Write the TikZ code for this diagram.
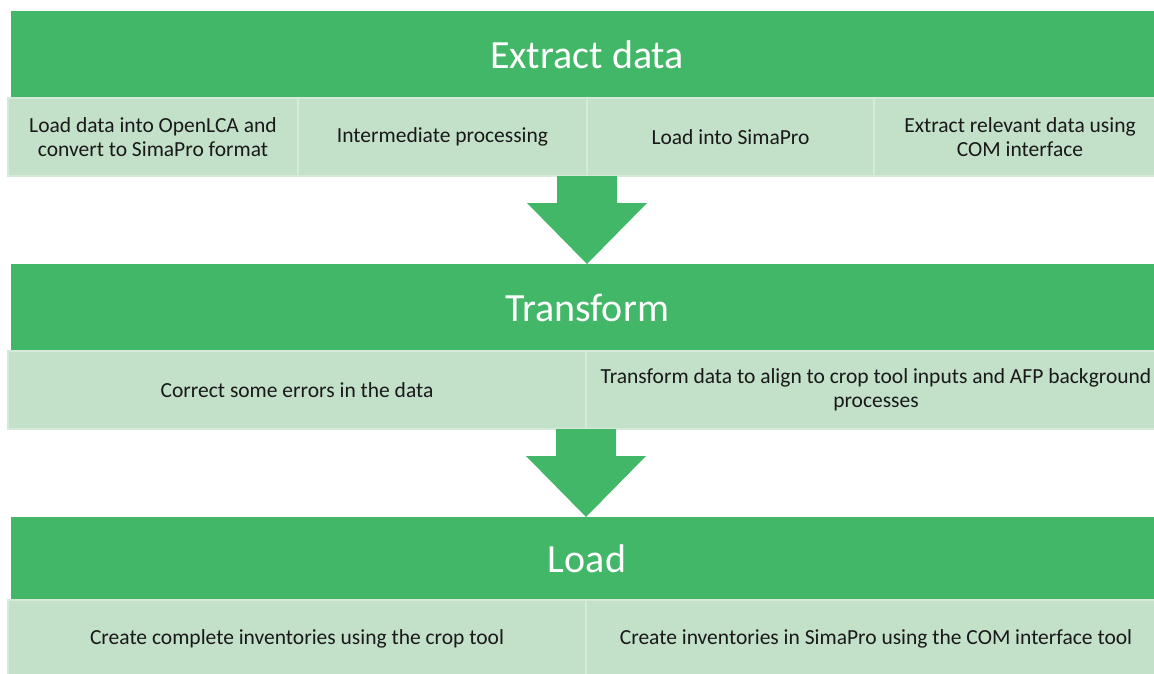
\documentclass[tikz,border=0pt]{standalone}
\usepackage{fontspec}
\setmainfont{Carlito}
\usetikzlibrary{positioning,calc}

\definecolor{stagegreen}{RGB}{67,183,104}
\definecolor{stepgreen}{RGB}{195,224,201}
\definecolor{stepline}{RGB}{214,234,218}

\newcommand{\blockarrow}[2]{%
  \fill[stagegreen] ($(#1)+(-30,0)$) -- ($(#1)+(30,0)$)
    -- ($(#1 |- #2)+(30,-61)$) -- ($(#1 |- #2)+(60,-61)$)
    -- (#1 |- #2) -- ($(#1 |- #2)+(-60,-61)$)
    -- ($(#1 |- #2)+(-30,-61)$) -- cycle;}

\begin{document}
\begin{tikzpicture}[x=1pt,y=-1pt,
    stage/.style={fill=stagegreen,text=white,minimum width=1152pt,minimum height=87pt,
                  inner sep=0pt,outer sep=0pt,anchor=north west,font=\fontsize{40}{46}\selectfont},
    task/.style={fill=stepgreen,draw=stepline,line width=1.2pt,minimum height=78pt,
                 inner sep=0pt,outer sep=0pt,align=center,text=black!90,
                 font=\fontsize{21.5}{23.5}\selectfont}]
  \useasboundingbox (0,0) rectangle (1154,673);

  % extract
  \node[stage] (header1) at (11,11) {Extract data};
  \node[task,minimum width=290pt,anchor=north west] (cell11) at (8,98)
    {Load data into OpenLCA and\\convert to SimaPro format};
  \node[task,minimum width=289pt] (cell12) [right=0pt of cell11] {Intermediate processing};
  \node[task,minimum width=287pt] (cell13) [right=0pt of cell12] {Load into SimaPro};
  \node[task,minimum width=292pt] (cell14) [right=0pt of cell13]
    {Extract relevant data using\\COM interface};

  % transform
  \node[stage] (header2) at (11,264) {Transform};
  \node[task,minimum width=578pt,anchor=north west] (cell21) at (8,351)
    {Correct some errors in the data};
  \node[task,minimum width=580pt] (cell22) [right=0pt of cell21]
    {Transform data to align to crop tool inputs and AFP background\\processes};

  % load
  \node[stage,minimum height=83pt] (header3) at (11,517) {Load};
  \node[task,minimum width=578pt,anchor=north west] (cell31) at (8,600)
    {Create complete inventories using the crop tool};
  \node[task,minimum width=580pt] (cell32) [right=0pt of cell31]
    {Create inventories in SimaPro using the COM interface tool};

  \blockarrow{cell13.south west}{header2.north}
  \blockarrow{cell22.south west}{header3.north}
\end{tikzpicture}
\end{document}
